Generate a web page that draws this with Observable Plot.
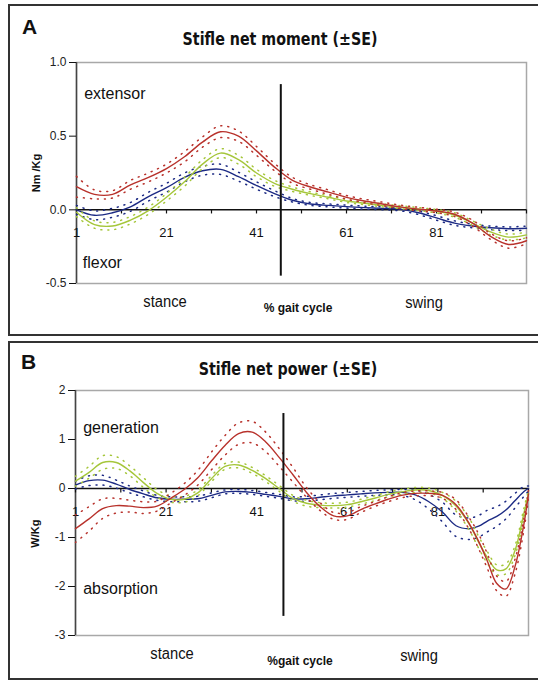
<!DOCTYPE html>
<html><head><meta charset="utf-8">
<script src="https://cdn.jsdelivr.net/npm/d3@7"></script>
<script src="https://cdn.jsdelivr.net/npm/@observablehq/plot@0.6"></script>
<style>
html,body{margin:0;padding:0;background:#fff;overflow:hidden;width:538px;height:681px}
#wrap{position:relative;width:538px;height:681px;font-family:"Liberation Sans",Arial,sans-serif;color:#111;overflow:hidden}
.panel{position:absolute;border:2px solid #333;box-sizing:border-box}
.lbl{position:absolute;transform:translate(-50%,-50%);white-space:nowrap}
.letter{font-size:21px;font-weight:bold;transform:none}
.title{font-family:"Liberation Sans Narrow","DejaVu Sans Condensed",sans-serif;font-weight:bold;font-size:18px;transform:translate(-50%,-50%) scaleX(0.88)}
.phase{font-size:16px;transform:translate(-50%,-50%) scaleX(0.92)}
.gait{font-size:12px;font-weight:bold}
.chart{position:absolute;left:0}
</style></head>
<body><div id="wrap">
<div class="panel" style="left:8px;top:4px;width:540px;height:332px"></div>
<div class="panel" style="left:8px;top:341px;width:540px;height:339px"></div>
<div id="chartA" class="chart" style="top:40px"></div>
<div id="chartB" class="chart" style="top:370px"></div>
<div class="lbl letter" style="left:22px;top:15px">A</div>
<div class="lbl title" style="left:280px;top:38px">Stifle net moment (±SE)</div>
<div class="lbl phase" style="left:165px;top:302px">stance</div>
<div class="lbl gait" style="left:298px;top:308px">% gait cycle</div>
<div class="lbl phase" style="left:424px;top:303px">swing</div>
<div class="lbl letter" style="left:21px;top:350px">B</div>
<div class="lbl title" style="left:288px;top:368px">Stifle net power (±SE)</div>
<div class="lbl phase" style="left:172px;top:654px">stance</div>
<div class="lbl gait" style="left:300px;top:661px">%gait cycle</div>
<div class="lbl phase" style="left:419px;top:656px">swing</div>
</div>
<script>
// ---------- Panel A: stifle net moment (Nm/Kg) ----------
const xA = [1,5,9,13,17,21,25,29,33,37,41,45,49,53,57,61,65,69,73,77,81,85,89,93,97,101];
const momentRed   = [0.157,0.105,0.105,0.17,0.22,0.28,0.36,0.46,0.53,0.50,0.40,0.29,0.20,0.155,0.12,0.085,0.06,0.04,0.02,0.005,-0.008,-0.03,-0.09,-0.18,-0.235,-0.21];
const momentGreen = [-0.016,-0.10,-0.11,-0.07,-0.005,0.085,0.19,0.31,0.385,0.34,0.25,0.18,0.14,0.11,0.085,0.06,0.045,0.03,0.018,0.005,-0.01,-0.035,-0.09,-0.15,-0.185,-0.17];
const momentBlue  = [0.0,-0.037,-0.02,0.02,0.09,0.15,0.22,0.265,0.275,0.225,0.165,0.11,0.065,0.04,0.03,0.022,0.015,0.01,0.003,-0.02,-0.055,-0.09,-0.11,-0.122,-0.128,-0.125];
const momentRedSE   = [0.07,0.03,0.025,0.03,0.03,0.03,0.035,0.035,0.04,0.035,0.03,0.025,0.02,0.015,0.015,0.012,0.012,0.012,0.012,0.012,0.012,0.015,0.02,0.02,0.025,0.02];
const momentGreenSE = [0.03,0.025,0.025,0.025,0.025,0.025,0.03,0.03,0.03,0.03,0.025,0.02,0.015,0.012,0.01,0.01,0.01,0.01,0.01,0.01,0.012,0.015,0.015,0.02,0.02,0.02];
const momentBlueSE  = [0.03,0.03,0.03,0.03,0.03,0.03,0.03,0.03,0.035,0.03,0.025,0.02,0.012,0.01,0.01,0.01,0.01,0.01,0.01,0.012,0.015,0.015,0.012,0.012,0.012,0.015];
const yTicksA = [1, 0.5, 0, -0.5];

// ---------- Panel B: stifle net power (W/Kg) ----------
const xB = [1,4,7,10,13,16,19,22,25,28,31,34,37,40,43,46,49,52,55,58,61,64,67,70,73,76,79,82,85,88,90,92,94,96,98,100,101];
const powerRed   = [-0.82,-0.62,-0.41,-0.35,-0.36,-0.39,-0.36,-0.20,-0.02,0.22,0.56,0.88,1.12,1.15,0.95,0.63,0.28,-0.08,-0.37,-0.56,-0.56,-0.43,-0.32,-0.22,-0.14,-0.10,-0.10,-0.14,-0.33,-0.73,-1.08,-1.50,-1.94,-2.05,-1.6,-0.72,-0.11];
const powerGreen = [0.15,0.33,0.53,0.53,0.36,0.12,-0.10,-0.22,-0.22,-0.09,0.2,0.45,0.48,0.37,0.2,0.0,-0.2,-0.3,-0.34,-0.35,-0.33,-0.27,-0.2,-0.12,-0.07,-0.03,-0.04,-0.14,-0.36,-0.74,-1.1,-1.42,-1.66,-1.64,-1.27,-0.5,-0.1];
const powerBlue  = [0.07,0.16,0.17,0.09,-0.02,-0.11,-0.19,-0.22,-0.22,-0.21,-0.14,-0.07,-0.06,-0.08,-0.12,-0.16,-0.21,-0.21,-0.18,-0.15,-0.13,-0.11,-0.09,-0.08,-0.08,-0.13,-0.27,-0.48,-0.76,-0.82,-0.77,-0.66,-0.57,-0.44,-0.25,-0.06,0.0];
const powerRedSE   = [0.28,0.25,0.2,0.15,0.12,0.12,0.1,0.1,0.12,0.15,0.18,0.2,0.22,0.22,0.2,0.18,0.15,0.1,0.08,0.07,0.07,0.06,0.05,0.05,0.05,0.05,0.05,0.06,0.1,0.12,0.15,0.15,0.15,0.15,0.15,0.12,0.08];
const powerGreenSE = [0.1,0.12,0.14,0.12,0.1,0.1,0.08,0.06,0.06,0.06,0.06,0.06,0.06,0.06,0.06,0.06,0.06,0.06,0.05,0.05,0.05,0.05,0.05,0.05,0.05,0.05,0.05,0.06,0.1,0.12,0.12,0.12,0.1,0.1,0.1,0.1,0.06];
const powerBlueSE  = [0.08,0.1,0.1,0.08,0.07,0.06,0.05,0.05,0.05,0.05,0.05,0.04,0.04,0.04,0.04,0.04,0.04,0.05,0.05,0.05,0.05,0.05,0.05,0.05,0.06,0.1,0.15,0.2,0.22,0.22,0.22,0.22,0.2,0.18,0.15,0.1,0.05];
const yTicksB = [2, 1, 0, -1, -2, -3];

const xTickMarks = [1,11,21,31,41,51,61,71,81,91,101];
const xTickLabels = [1,21,41,61,81];
const colors = {blue: "#1c2a84", green: "#a5c63a", red: "#b8322c"};

function rows(xs, vals, ses) {
  return xs.map((x, i) => ({x, v: vals[i], se: ses[i]}));
}

function chart(o) {
  const marks = [
    Plot.frame({stroke: "#a8a8a8", strokeWidth: 1.5}),
    Plot.ruleX([1], {stroke: "#444", strokeWidth: 1.5}),
    Plot.axisY(o.yTicks, {tickFormat: o.fmt, tickSize: 7, tickPadding: 3, fontSize: 12, fill: "#222"}),
    Plot.ruleY([0], {stroke: "#111", strokeWidth: 1.5}),
    Plot.ruleX(xTickMarks, {x: d => d, y1: 0, y2: o.tickLen, stroke: "#111", strokeWidth: 1.2}),
    Plot.text(xTickLabels, {x: d => d, y: 0, text: d => String(d), dy: 23, fontSize: 13, fill: "#111"})
  ];
  for (const s of o.series) {
    const data = rows(o.xs, s.v, s.se);
    const c = colors[s.c];
    marks.push(Plot.line(data, {x: "x", y: d => d.v + d.se, stroke: c, strokeWidth: 1.5, strokeDasharray: "1,6", curve: "catmull-rom"}));
    marks.push(Plot.line(data, {x: "x", y: d => d.v - d.se, stroke: c, strokeWidth: 1.5, strokeDasharray: "1,6", curve: "catmull-rom"}));
    marks.push(Plot.line(data, {x: "x", y: "v", stroke: c, strokeWidth: 1.4, curve: "catmull-rom"}));
  }
  marks.push(Plot.ruleX([o.split], {x: d => d, y1: o.splitY[0], y2: o.splitY[1], stroke: "#111", strokeWidth: 2}));
  marks.push(Plot.text(o.notes, {x: "x", y: "y", text: "t", textAnchor: "start", fontSize: 16, fill: "#111"}));
  marks.push(Plot.text([o.ylabel], {x: 1, y: o.ylabelY, text: d => d, rotate: -90, dx: -40, fontSize: 11, fontWeight: "bold", fill: "#111"}));
  return Plot.plot({
    width: 538, height: o.height,
    marginLeft: o.ml, marginRight: o.mr, marginTop: o.mt, marginBottom: o.mb,
    x: {domain: [1, 101], axis: null},
    y: {domain: o.yDomain, axis: null},
    style: {background: "transparent", fontFamily: "'Liberation Sans', Arial, sans-serif"},
    marks
  });
}

document.getElementById("chartA").appendChild(chart({
  xs: xA, height: 260, ml: 76, mr: 12, mt: 22, mb: 17,
  yDomain: [-0.5, 1], yTicks: yTicksA, fmt: d => d.toFixed(1), tickLen: -0.028,
  split: 46.4, splitY: [0.85, -0.45],
  series: [
    {c: "blue", v: momentBlue, se: momentBlueSE},
    {c: "green", v: momentGreen, se: momentGreenSE},
    {c: "red", v: momentRed, se: momentRedSE}
  ],
  notes: [{x: 2.7, y: 0.786, t: "extensor"}, {x: 2.4, y: -0.363, t: "flexor"}],
  ylabel: "Nm /Kg", ylabelY: 0.25
}));

document.getElementById("chartB").appendChild(chart({
  xs: xB, height: 280, ml: 75, mr: 10, mt: 20, mb: 15,
  yDomain: [-3, 2], yTicks: yTicksB, fmt: d => String(d), tickLen: -0.09,
  split: 46.9, splitY: [1.53, -2.61],
  series: [
    {c: "blue", v: powerBlue, se: powerBlueSE},
    {c: "green", v: powerGreen, se: powerGreenSE},
    {c: "red", v: powerRed, se: powerRedSE}
  ],
  notes: [{x: 2.7, y: 1.24, t: "generation"}, {x: 2.7, y: -2.04, t: "absorption"}],
  ylabel: "W/Kg", ylabelY: -0.92
}));
</script>
</body></html>
